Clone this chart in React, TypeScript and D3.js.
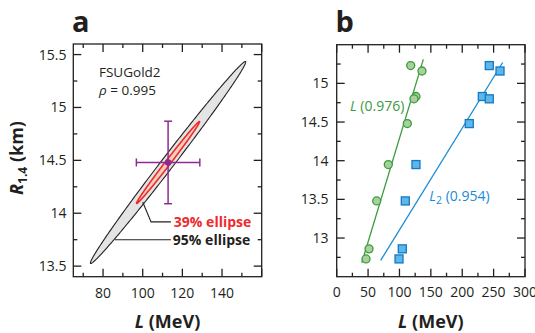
import React from 'react';
import * as d3 from 'd3';

// ---- panel a: FSUGold2 L vs R1.4 covariance ----
const fsuMeanL = 112.8;
const fsuMeanR = 14.48;
const fsuSigmaL = 16;
const fsuSigmaR = 0.39;
const fsuRho = 0.995;
const ellipseProbs = [0.95, 0.39];
const ellipseLabels = ['95% ellipse', '39% ellipse'];
// leader lines (L, R) from ellipse edge to label
const leader95 = [[85.85, 13.75], [114.2, 13.75]];
const leader39 = [[100, 14.107], [104.2, 13.918], [114.2, 13.918]];
const aTicksX = [80, 100, 120, 140];
const aTicksY = [13.5, 14, 14.5, 15, 15.5];

// ---- panel b: models, L and L2 vs R1.4 ----
const modelR = [15.23, 15.16, 14.83, 14.8, 14.48, 13.95, 13.48, 12.86, 12.73];
const modelL = [117.9, 135.9, 126.3, 123.1, 112.5, 82.2, 63.7, 51.5, 46.7];
const modelL2 = [243.1, 260.2, 232, 243.1, 211.2, 126.3, 109.3, 104.5, 99.3];
const fitLx = [40, 138];
const fitLy = [12.68, 15.31];
const fitL2x = [70, 264.5];
const fitL2y = [12.71, 15.27];
const bTicksX = [0, 50, 100, 150, 200, 250, 300];
const bTicksY = [13, 13.5, 14, 14.5, 15];

const ink = '#231f20';
const font = '"Open Sans", "Noto Sans", sans-serif';
const green = '#3c9b3e';
const blue = '#1a8bd6';
const purple = '#8e2b91';
const red = '#ee2a2f';

const ax = d3.scaleLinear().domain([65, 160]).range([73.3, 261.7]);
const ay = d3.scaleLinear().domain([13.4, 15.6]).range([276.7, 44]);
const bx = d3.scaleLinear().domain([0, 300]).range([336.7, 525]);
const by = d3.scaleLinear().domain([12.5, 15.5]).range([276.7, 44.7]);

const fmt = (v: number) => String(v);

function ellipsePath(p: number) {
  const r = Math.sqrt(-2 * Math.log(1 - p));
  const s = Math.sqrt(1 - fsuRho * fsuRho);
  const pts = d3.range(0, 2 * Math.PI + 0.001, Math.PI / 180).map(t => [
    ax(fsuMeanL + r * fsuSigmaL * Math.cos(t)),
    ay(fsuMeanR + r * fsuSigmaR * (fsuRho * Math.cos(t) + s * Math.sin(t))),
  ] as [number, number]);
  return d3.line()(pts) + 'Z';
}

function Frame({ x, y, majorX, minorX, majorY, minorY }: any) {
  const [x0, x1] = x.range();
  const [y0, y1] = y.range();
  const els: any[] = [];
  majorX.forEach((v: number, i: number) => {
    els.push(<line key={'mx' + i} x1={x(v)} x2={x(v)} y1={y0} y2={y0 - 8} />);
    els.push(<line key={'mxt' + i} x1={x(v)} x2={x(v)} y1={y1} y2={y1 + 8} />);
  });
  minorX.forEach((v: number, i: number) => {
    els.push(<line key={'nx' + i} x1={x(v)} x2={x(v)} y1={y0} y2={y0 - 4} />);
    els.push(<line key={'nxt' + i} x1={x(v)} x2={x(v)} y1={y1} y2={y1 + 4} />);
  });
  majorY.forEach((v: number, i: number) => {
    els.push(<line key={'my' + i} x1={x0} x2={x0 + 8} y1={y(v)} y2={y(v)} />);
    els.push(<line key={'myr' + i} x1={x1} x2={x1 - 8} y1={y(v)} y2={y(v)} />);
  });
  minorY.forEach((v: number, i: number) => {
    els.push(<line key={'ny' + i} x1={x0} x2={x0 + 4} y1={y(v)} y2={y(v)} />);
    els.push(<line key={'nyr' + i} x1={x1} x2={x1 - 4} y1={y(v)} y2={y(v)} />);
  });
  return (
    <g stroke={ink} strokeWidth={1.3} fill="none">
      {els}
      <rect x={x0} y={y1} width={x1 - x0} height={y0 - y1} />
    </g>
  );
}

export default function App() {
  const line = d3.line();
  const innerProb = ellipseProbs[1];
  const outerProb = ellipseProbs[0];
  return (
    <svg width={535} height={333} style={{ position: 'absolute', left: 0, top: 0, background: '#fff' }}
      fontFamily={font}>
      {/* ---------- panel a ---------- */}
      <text x={72} y={31.5} fontSize={29} fontWeight="bold" fill={ink}>a</text>
      <path d={ellipsePath(outerProb)} fill="#e4e4e4" stroke={ink} strokeWidth={1.1} />
      <path d={ellipsePath(innerProb)} fill="#f9cdb6" stroke={red} strokeWidth={1.6} />
      {/* error bars */}
      <g stroke={purple} strokeWidth={1.5}>
        <line x1={ax(fsuMeanL - fsuSigmaL)} x2={ax(fsuMeanL + fsuSigmaL)} y1={ay(fsuMeanR)} y2={ay(fsuMeanR)} />
        <line x1={ax(fsuMeanL)} x2={ax(fsuMeanL)} y1={ay(fsuMeanR - fsuSigmaR)} y2={ay(fsuMeanR + fsuSigmaR)} />
        {[-1, 1].map(k => (
          <g key={k}>
            <line x1={ax(fsuMeanL + k * fsuSigmaL)} x2={ax(fsuMeanL + k * fsuSigmaL)} y1={ay(fsuMeanR) - 4} y2={ay(fsuMeanR) + 4} />
            <line x1={ax(fsuMeanL) - 4} x2={ax(fsuMeanL) + 4} y1={ay(fsuMeanR + k * fsuSigmaR)} y2={ay(fsuMeanR + k * fsuSigmaR)} />
          </g>
        ))}
      </g>
      <circle cx={ax(fsuMeanL)} cy={ay(fsuMeanR)} r={3.3} fill={purple} />
      {/* leaders */}
      <path d={line(leader39.map(d => [ax(d[0]), ay(d[1])]) as any) || ''} fill="none" stroke={ink} strokeWidth={1.1} />
      <path d={line(leader95.map(d => [ax(d[0]), ay(d[1])]) as any) || ''} fill="none" stroke={ink} strokeWidth={1.1} />
      <text x={ax(leader39[2][0]) + 3} y={ay(leader39[2][1]) + 5} fontSize={14} fontWeight="bold" fill={red}>{ellipseLabels[1]}</text>
      <text x={ax(leader95[1][0]) + 2} y={ay(leader95[1][1]) + 5} fontSize={14} fontWeight="bold" fill={ink}>{ellipseLabels[0]}</text>
      <text x={99} y={77.3} fontSize={13.5} fill={ink}>FSUGold2</text>
      <text x={99} y={95} fontSize={13.5} fill={ink}><tspan fontStyle="italic">ρ</tspan> = {fsuRho}</text>

      <Frame x={ax} y={ay} majorX={aTicksX.concat([160])} minorX={d3.range(70, 160, 20)}
        majorY={aTicksY} minorY={d3.range(13.75, 15.5, 0.5)} />
      <g fontSize={14} fill={ink}>
        {aTicksX.map(v => <text key={v} x={ax(v)} y={298} textAnchor="middle">{fmt(v)}</text>)}
        {aTicksY.map(v => <text key={v} x={66.5} y={ay(v) + 5} textAnchor="end">{fmt(v)}</text>)}
      </g>
      <text x={(ax.range()[0] + ax.range()[1]) / 2} y={327.5} textAnchor="middle" fontSize={18} fontWeight="bold" fill={ink}>
        <tspan fontStyle="italic">L</tspan> (MeV)
      </text>
      <text transform={`translate(23,158) rotate(-90)`} textAnchor="middle" fontSize={18} fontWeight="bold" fill={ink}>
        <tspan fontStyle="italic">R</tspan>
        <tspan fontSize={12} dy={4}>1.4</tspan>
        <tspan dy={-4}> (km)</tspan>
      </text>

      {/* ---------- panel b ---------- */}
      <text x={335.5} y={31.5} fontSize={29} fontWeight="bold" fill={ink}>b</text>
      <path d={line(fitLx.map((v, i) => [bx(v), by(fitLy[i])]) as any) || ''} stroke={green} strokeWidth={1.3} fill="none" />
      <path d={line(fitL2x.map((v, i) => [bx(v), by(fitL2y[i])]) as any) || ''} stroke={blue} strokeWidth={1.3} fill="none" />
      {modelL.map((v, i) => (
        <circle key={'c' + i} cx={bx(v)} cy={by(modelR[i])} r={4} fill="#a8d09d" stroke={green} strokeWidth={1.3} />
      ))}
      {modelL2.map((v, i) => (
        <rect key={'s' + i} x={bx(v) - 4} y={by(modelR[i]) - 4} width={8} height={8} fill="#5db7ea" stroke="#1478c4" strokeWidth={1.3} />
      ))}
      <text x={350} y={111} fontSize={14} fill={green}><tspan fontStyle="italic">L</tspan> (0.976)</text>
      <text x={429.3} y={200.7} fontSize={14} fill={blue}>
        <tspan fontStyle="italic">L</tspan><tspan fontSize={10.5} dy={3}>2</tspan><tspan dy={-3}> (0.954)</tspan>
      </text>

      <Frame x={bx} y={by} majorX={bTicksX} minorX={d3.range(25, 300, 50)}
        majorY={bTicksY} minorY={d3.range(12.75, 15.5, 0.5)} />
      <g fontSize={14} fill={ink}>
        {bTicksX.map(v => <text key={v} x={bx(v)} y={297} textAnchor="middle">{fmt(v)}</text>)}
        {bTicksY.map(v => <text key={v} x={328.5} y={by(v) + 5} textAnchor="end">{fmt(v)}</text>)}
      </g>
      <text x={(bx.range()[0] + bx.range()[1]) / 2} y={327.5} textAnchor="middle" fontSize={18} fontWeight="bold" fill={ink}>
        <tspan fontStyle="italic">L</tspan> (MeV)
      </text>
    </svg>
  );
}
